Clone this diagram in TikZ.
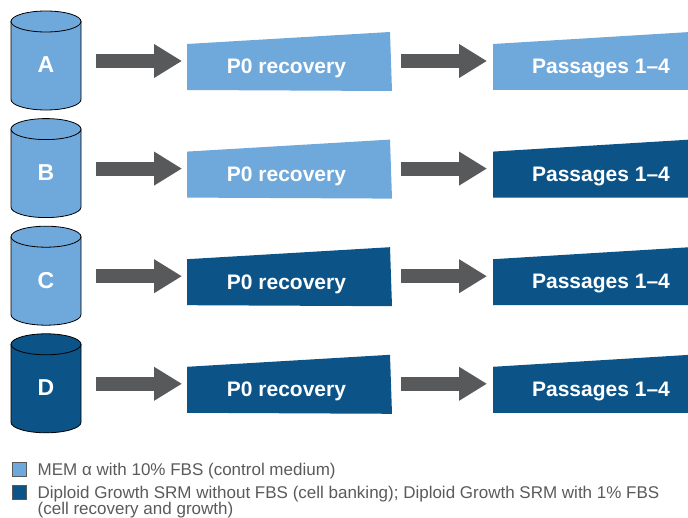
\documentclass[tikz,border=0pt]{standalone}
\usepackage{fontspec}
\setmainfont{Liberation Sans}
\usetikzlibrary{arrows.meta}
\definecolor{lblue}{RGB}{111,168,218}
\definecolor{dblue}{RGB}{12,83,136}
\definecolor{agray}{RGB}{88,89,91}
\definecolor{lgtext}{RGB}{90,90,90}
\begin{document}
\begin{tikzpicture}[x=1pt,y=-1pt,
  cyl/.style={draw=black,line width=0.8pt},
  lbl/.style={text=white,font=\bfseries\fontsize{23}{26}\selectfont,anchor=base,inner sep=0pt},
  boxtxt/.style={text=white,font=\bfseries\fontsize{21}{24}\selectfont,anchor=base,inner sep=0pt},
  blockarrow/.style={draw=agray,line width=14pt,-{Triangle[length=28pt,width=32pt]}},
  legsq/.style={draw=black!65,line width=0.6pt,minimum size=14pt,inner sep=0pt},
  legtxt/.style={text=lgtext,font=\fontsize{17}{23}\selectfont,anchor=base west,inner sep=0pt}]
\useasboundingbox (0,0) rectangle (688,518);
\foreach \k/\L/\cc/\ca/\cb in {0/A/lblue/lblue/lblue,1/B/lblue/lblue/dblue,2/C/lblue/dblue/dblue,3/D/dblue/dblue/dblue}{
  \pgfmathsetmacro\dy{107.6*\k}
  \begin{scope}[yshift=-\dy pt]
    % cylinder
    \filldraw[cyl,fill=\cc] (11,21.5) -- (11,99.5) arc[start angle=180,end angle=0,x radius=35,y radius=10.5] -- (81,21.5) -- cycle;
    \filldraw[cyl,fill=\cc] (46,21.5) ellipse[x radius=35,y radius=10.5];
    \node[lbl] (cyl\L) at (46,73) {\L};
    % boxes
    \fill[\ca] (187,44) -- (390,32) -- (392,91) -- (187,90) -- cycle;
    \node[boxtxt] (p0\L) at (286.5,74) {P0 recovery};
    \fill[\cb] (493,44) -- (690,32) -- (690,90) -- (493,90) -- cycle;
    \node[boxtxt] (ps\L) at (601,73.5) {Passages 1–4};
    % arrows
    \coordinate (as\L) at (96,61);
    \coordinate (ae\L) at (182,61);
    \coordinate (bs\L) at (401,61);
    \coordinate (be\L) at (487,61);
    \draw[blockarrow] (as\L) -- (ae\L);
    \draw[blockarrow] (bs\L) -- (be\L);
  \end{scope}
}
% legend
\node[legsq,fill=lblue] (sq1) at (19.5,469) {};
\node[legsq,fill=dblue] (sq2) at (19.5,492.5) {};
\node[legtxt] (leg1) at (37.5,475.5) {MEM α with 10\% FBS (control medium)};
\node[legtxt] (leg2) at (37.5,498.5) {Diploid Growth SRM without FBS (cell banking); Diploid Growth SRM with 1\% FBS};
\node[legtxt] (leg3) at (37.5,514) {(cell recovery and growth)};
\end{tikzpicture}
\end{document}
